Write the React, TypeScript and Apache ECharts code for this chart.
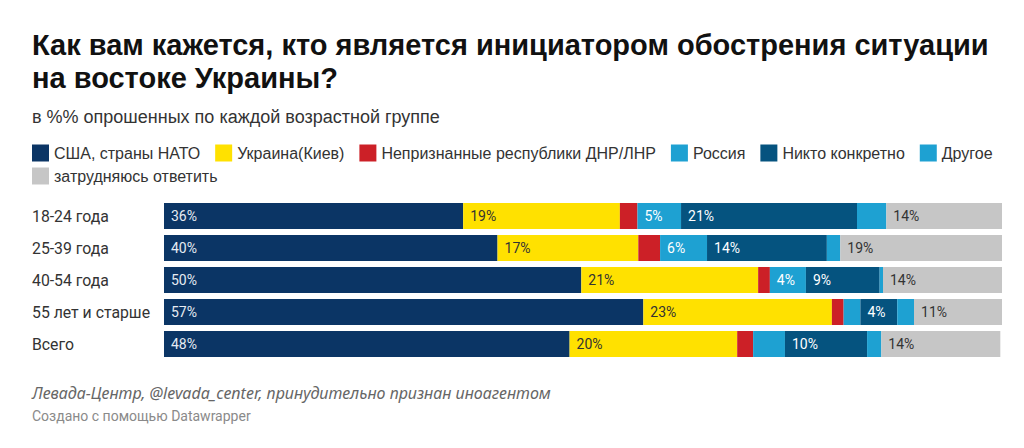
import React, { useEffect, useRef } from "react";
import * as echarts from "echarts";

const categories = ["18-24 года", "25-39 года", "40-54 года", "55 лет и старше", "Всего"];
const seriesNames = [
  "США, страны НАТО",
  "Украина(Киев)",
  "Непризнанные республики ДНР/ЛНР",
  "Россия",
  "Никто конкретно",
  "Другое",
  "затрудняюсь ответить",
];
const usaNato = [35.7, 39.8, 49.8, 57.2, 48.4];
const ukraine = [18.7, 16.8, 21.1, 22.5, 20.0];
const dnrLnr = [2.1, 2.6, 1.4, 1.4, 1.9];
const russia = [5.2, 5.6, 4.3, 2.0, 3.8];
const nobody = [21.0, 14.3, 8.8, 4.4, 9.8];
const other = [3.5, 1.6, 0.4, 2.0, 1.7];
const dontKnow = [13.8, 19.3, 14.2, 10.5, 14.2];

const seriesData = [usaNato, ukraine, dnrLnr, russia, nobody, other, dontKnow];
const colors = ["#0b3565", "#ffe100", "#cc2027", "#1ea1d2", "#05537f", "#1ea1d2", "#c6c6c6"];
const labelColors = ["#e6ebf2", "#333333", "#ffffff", "#ffffff", "#ffffff", "#ffffff", "#333333"];

const ROBOTO = "Roboto, 'Noto Sans', sans-serif";
const ARIAL = "'Liberation Sans', Arial, sans-serif";

export default function App() {
  const ref = useRef<HTMLDivElement>(null);
  useEffect(() => {
    if (!ref.current) return;
    const chart = echarts.init(ref.current, null, { renderer: "svg" });
    const legendText = { fontFamily: ARIAL, fontSize: 16, color: "#333333" };
    const option: any = {
      animation: false,
      backgroundColor: "#ffffff",
      textStyle: { fontFamily: ROBOTO },
      title: [
        {
          text: "Как вам кажется, кто является инициатором обострения ситуации\nна востоке Украины?",
          left: 32,
          top: 28,
          padding: 0,
          textStyle: { fontFamily: ARIAL, fontSize: 29, fontWeight: "bold", color: "#111111", lineHeight: 33 },
        },
        {
          text: "в %% опрошенных по каждой возрастной группе",
          left: 32,
          top: 108,
          padding: 0,
          textStyle: { fontFamily: ARIAL, fontSize: 18, fontWeight: "normal", color: "#333333", lineHeight: 18 },
        },
        {
          text: "Левада-Центр, @levada_center, принудительно признан иноагентом",
          left: 32,
          top: 384,
          padding: 0,
          textStyle: { fontFamily: "'Noto Sans', Roboto, sans-serif", fontSize: 16, fontStyle: "italic", fontWeight: "normal", color: "#666666", lineHeight: 18 },
        },
        {
          text: "Создано с помощью Datawrapper",
          left: 32,
          top: 407,
          padding: 0,
          textStyle: { fontFamily: ROBOTO, fontSize: 14, fontWeight: "normal", color: "#8a8a8a", lineHeight: 18 },
        },
      ],
      legend: [
        {
          data: seriesNames.slice(0, 6),
          left: 32,
          top: 144.5,
          padding: 0,
          itemWidth: 17,
          itemHeight: 17,
          itemGap: 15,
          icon: "rect",
          selectedMode: false,
          textStyle: legendText,
        },
        {
          data: seriesNames.slice(6),
          left: 32,
          top: 167.5,
          padding: 0,
          itemWidth: 17,
          itemHeight: 17,
          itemGap: 15,
          icon: "rect",
          selectedMode: false,
          textStyle: legendText,
        },
      ],
      grid: { left: 164, right: 22, top: 200, bottom: 88, containLabel: false },
      xAxis: {
        type: "value",
        min: 0,
        max: 100,
        show: false,
      },
      yAxis: {
        type: "category",
        data: categories,
        inverse: true,
        axisLine: { show: false },
        axisTick: { show: false },
        splitLine: { show: false },
        axisLabel: {
          align: "left",
          margin: 132,
          fontFamily: ROBOTO,
          fontSize: 15.8,
          color: "#333333",
        },
      },
      series: seriesNames.map((name, i) => ({
        name,
        type: "bar",
        stack: "total",
        barWidth: 26,
        data: seriesData[i],
        itemStyle: { color: colors[i] },
        label: {
          show: true,
          position: "insideLeft",
          distance: 7,
          fontFamily: ROBOTO,
          fontSize: 14,
          color: labelColors[i],
          formatter: (p: any) => (p.value >= 4 ? Math.round(p.value) + "%" : ""),
        },
      })),
    };
    chart.setOption(option);
    return () => chart.dispose();
  }, []);
  return (
    <div
      ref={ref}
      style={{ position: "fixed", left: 0, top: 0, width: 1024, height: 448 }}
    />
  );
}
